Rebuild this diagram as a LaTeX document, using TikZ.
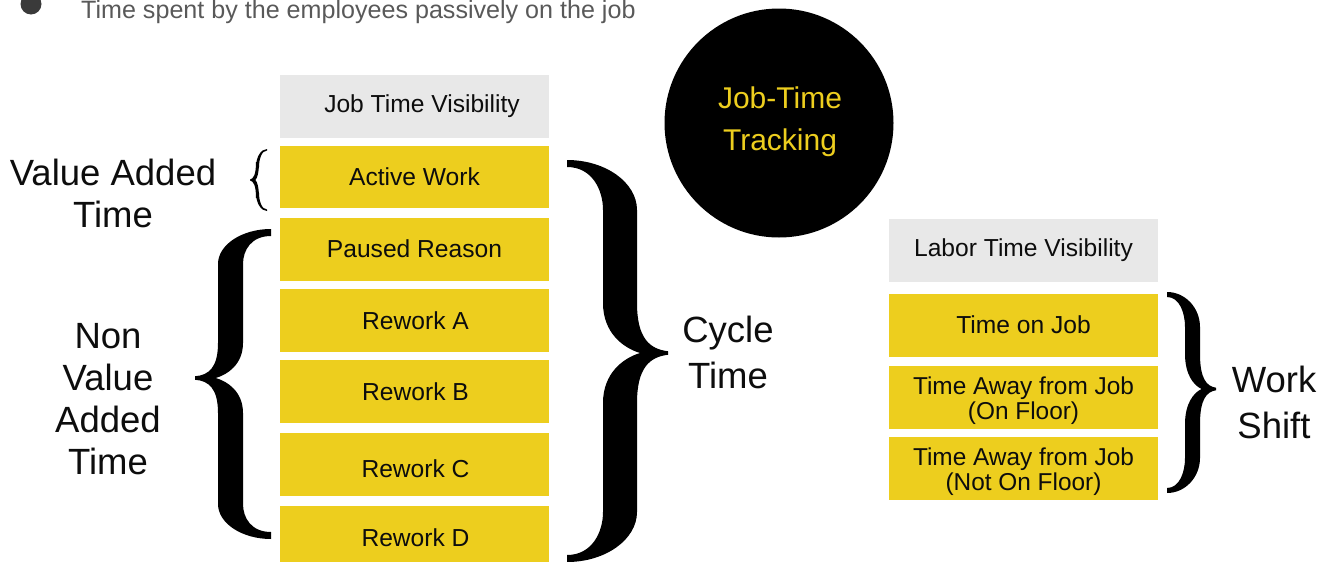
\documentclass[tikz,border=0pt]{standalone}
\usepackage{fontspec}
\setmainfont{Liberation Sans}
\definecolor{jobyellow}{HTML}{EDCE1E}
\definecolor{headgray}{HTML}{E8E8E8}
\definecolor{capgray}{HTML}{595959}
\definecolor{bulgray}{HTML}{3A3A3A}
\newcommand{\shiftedtext}[2]{\raisebox{#1}[\height][\depth]{#2}}
\newcommand{\curly}[9]{% xe xl xr xt yt ym yb e bend
  \fill[black] ({#1},{#5}) .. controls ({#3-0.45*(#3-#1)},{#5}) and ({#3},{#5+0.45*#9}) .. ({#3},{#5+#9})
  -- ({#3},{#6-#9}) .. controls ({#3},{#6-0.3*#9}) and ({#3+0.4*(#4-#3)},{#6-0.08*#9}) .. ({#4},{#6-#8*0.25})
  -- ({#4},{#6+#8*0.25}) .. controls ({#3+0.4*(#4-#3)},{#6+0.08*#9}) and ({#3},{#6+0.3*#9}) .. ({#3},{#6+#9})
  -- ({#3},{#7-#9}) .. controls ({#3},{#7-0.45*#9}) and ({#3-0.45*(#3-#1)},{#7}) .. ({#1},{#7})
  -- ({#1},{#7-#8}) .. controls ({#2-0.3*(#2-#1)},{#7-#8}) and ({#2},{#7-0.6*#9}) .. ({#2},{#7-#9})
  -- ({#2},{#6+#9}) .. controls ({#2},{#6+0.4*#9}) and ({#2+0.6*(#3-#2)},{#6+0.1*#9}) .. ({#3+0.1*(#4-#3)},{#6})
  .. controls ({#2+0.6*(#3-#2)},{#6-0.1*#9}) and ({#2},{#6-0.4*#9}) .. ({#2},{#6-#9})
  -- ({#2},{#5+#9}) .. controls ({#2},{#5+0.6*#9}) and ({#2-0.3*(#2-#1)},{#5+#8}) .. ({#1},{#5+#8}) -- cycle;}
\tikzset{
  bar/.style={anchor=north west,minimum width=269pt,inner sep=0pt,outer sep=0pt,align=center,font=\fontsize{24.6}{26}\selectfont,text=black!95},
  yellowbar/.style={bar,fill=jobyellow,minimum height=62.5pt},
  graybar/.style={bar,fill=headgray,minimum height=62.5pt},
  biglabel/.style={align=center,font=\fontsize{36.5}{42}\selectfont,text=black!95,inner sep=0pt},
}
\begin{document}
\begin{tikzpicture}[x=1pt,y=-1pt]
\useasboundingbox (0,0) rectangle (1325,562);
\clip (0,0) rectangle (1325,562);
\fill[bulgray] (31,4) circle (10.5);
\node[anchor=base west,inner sep=0pt,text=capgray,font=\fontsize{25.1}{26}\selectfont] (cap) at (81,18.5) {Time spent by the employees passively on the job};
\node[graybar] (jobhead) at (280,75) {\hspace*{15pt}Job Time Visibility};
\node[yellowbar] (active) at (280,145.5) {Active Work};
\node[yellowbar] (paused) at (280,218) {\shiftedtext{1pt}{Paused Reason}};
\node[yellowbar] (reworka) at (280,289) {\hspace*{2pt}Rework A};
\node[yellowbar] (reworkb) at (280,360) {\hspace*{2pt}Rework B};
\node[yellowbar] (reworkc) at (280,433) {\hspace*{2pt}\shiftedtext{-4pt}{Rework C}};
\node[yellowbar,minimum height=64pt] (reworkd) at (280,506) {\hspace*{2pt}Rework D};
\node[graybar] (laborhead) at (889,219) {Labor Time Visibility};
\node[yellowbar] (onjob) at (889,294) {\shiftedtext{1pt}{Time on Job}};
\node[yellowbar,font=\fontsize{24.4}{25}\selectfont] (onfloor) at (889,366) {\shiftedtext{-3pt}{Time Away from Job}\\\shiftedtext{-3pt}{(On Floor)}};
\node[yellowbar,font=\fontsize{24.4}{25}\selectfont] (notfloor) at (889,437) {\shiftedtext{-3pt}{Time Away from Job}\\\shiftedtext{-3pt}{(Not On Floor)}};
\node[circle,fill=black,minimum size=229pt,inner sep=0pt] (track) at (779,123) {};
\node[align=center,inner sep=0pt,text=jobyellow,font=\fontsize{30}{42}\selectfont] (tracktext) at (780,122) {Job-Time\\Tracking};
\node[biglabel] (vat) at (113,193) {Value Added\\Time};
\node[biglabel] (nvat) at (108,399) {Non\\Value\\Added\\Time};
\node[biglabel,font=\fontsize{36.5}{46}\selectfont] (cycle) at (728,352) {Cycle\\Time};
\node[biglabel,font=\fontsize{36.5}{46}\selectfont] (shift) at (1274,402) {Work\\Shift};
\curly{267}{259}{256}{250}{149}{180}{211}{1.5}{18}
\curly{271}{243}{218}{195}{229}{378}{539}{7}{35}
\curly{567}{603}{637}{668}{160}{353}{562}{7}{50}
\curly{1167}{1185}{1200}{1216}{292}{389}{493}{5}{35}
\end{tikzpicture}
\end{document}
